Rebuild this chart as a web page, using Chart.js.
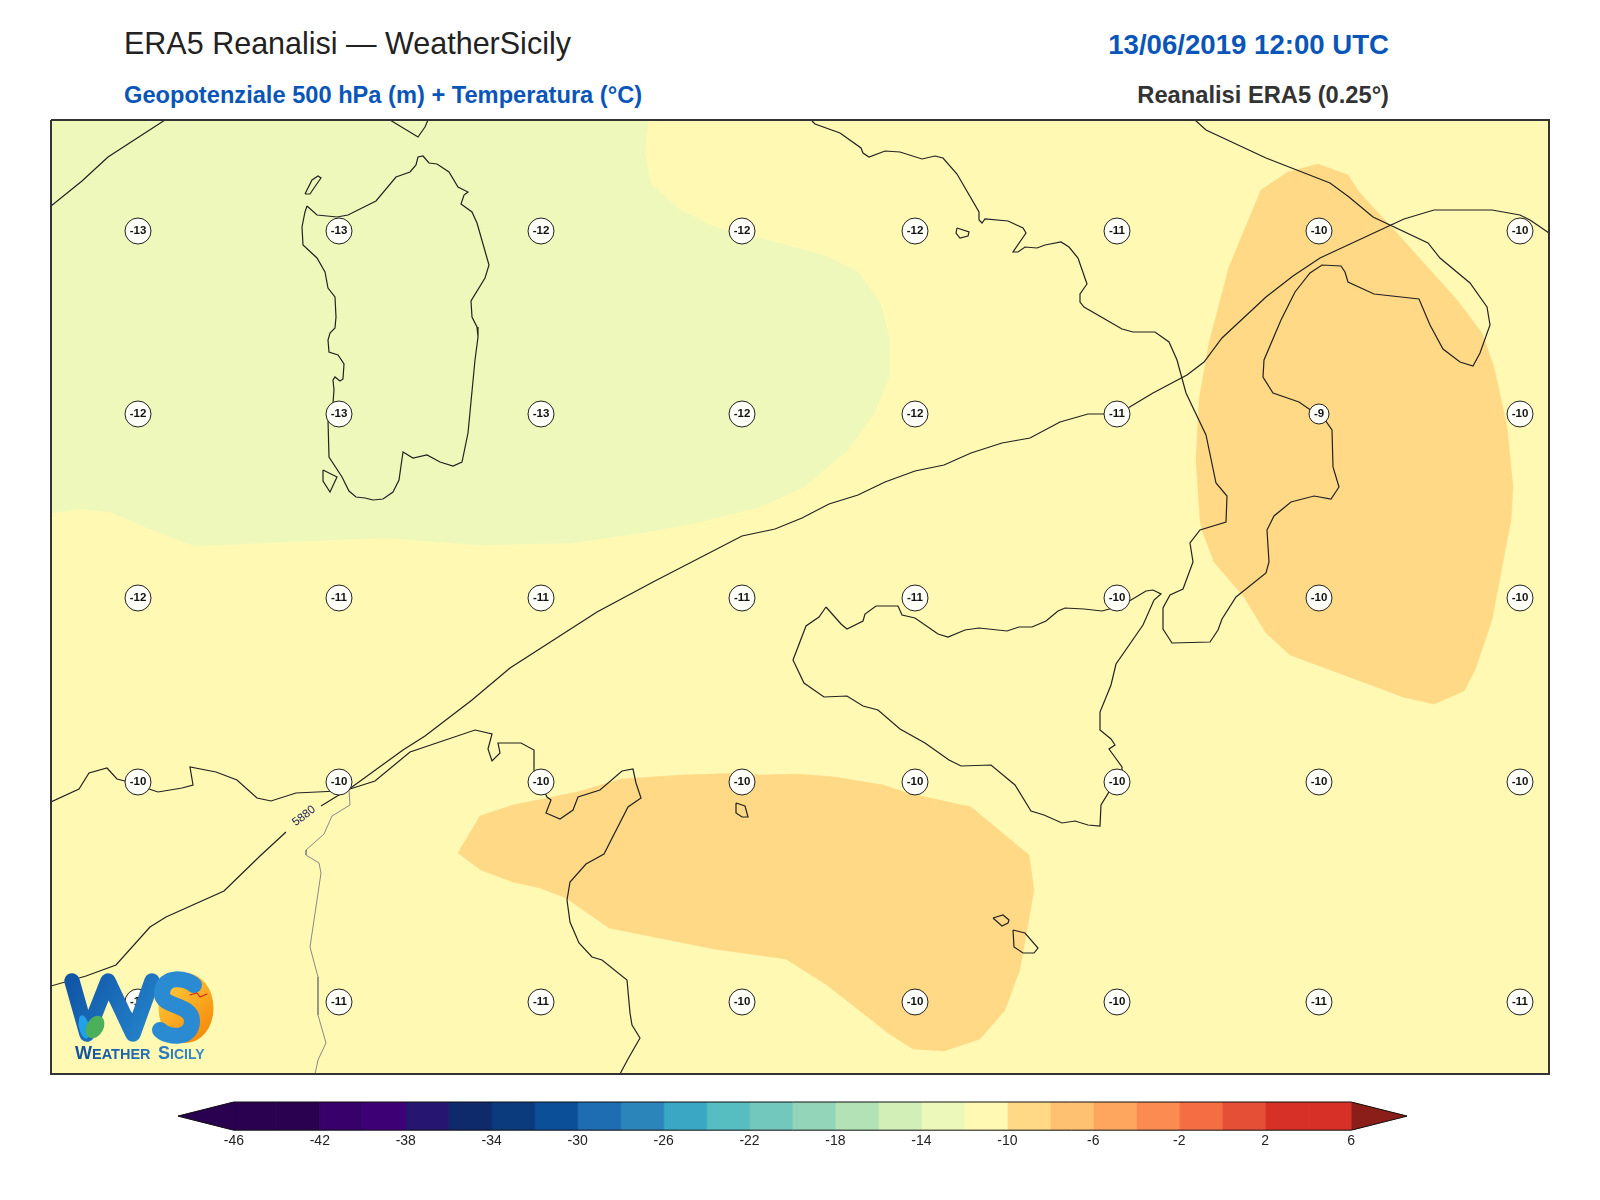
<!DOCTYPE html>
<html>
<head>
<meta charset="utf-8">
<title>ERA5 Reanalisi</title>
<script src="https://cdn.jsdelivr.net/npm/chart.js@4"></script>
<style>
  body { margin: 0; background: #fff; width: 1600px; height: 1200px; overflow: hidden; position: relative; font-family: "Liberation Sans", sans-serif; }
  canvas { position: absolute; left: 0; }
  .t { position: absolute; line-height: 1; white-space: nowrap; }
</style>
</head>
<body>
<div class="t" style="left:124px;top:28px;font-size:30.5px;color:#222">ERA5 Reanalisi — WeatherSicily</div>
<div class="t" style="left:124px;top:83.5px;font-size:23.65px;font-weight:bold;color:#0a55b8">Geopotenziale 500 hPa (m) + Temperatura (°C)</div>
<div class="t" style="right:211px;top:30.5px;font-size:27.6px;font-weight:bold;color:#0a55b8">13/06/2019 12:00 UTC</div>
<div class="t" style="right:211px;top:83.5px;font-size:23.7px;font-weight:bold;color:#333">Reanalisi ERA5 (0.25°)</div>
<canvas id="mappa" width="1600" height="1090" style="top:0"></canvas>
<canvas id="barra" width="1600" height="110" style="top:1090px"></canvas>
<script>
// griglia dei valori di temperatura
const gridX = [138, 339, 541, 742, 915, 1117, 1319, 1520];
const gridY = [231, 414, 598, 782, 1002];
const temp1 = [-13, -13, -12, -12, -12, -11, -10, -10];
const temp2 = [-12, -13, -13, -12, -12, -11, -9, -10];
const temp3 = [-12, -11, -11, -11, -11, -10, -10, -10];
const temp4 = [-10, -10, -10, -10, -10, -10, -10, -10];
const temp5 = [-11, -11, -11, -10, -10, -10, -11, -11];

// aree colorate
const dominio = [[51,120],[1549,120],[1549,1074],[51,1074]];
const areaVerde = [[648,120],[645,153],[651,184],[679,209],[714,227],[760,238],[829,257],[858,272],[880,302],[890,340],[889,377],[875,412],[848,450],[804,487],[760,507],[700,522],[653,531],[571,543],[480,545],[388,538],[306,541],[194,546],[153,530],[110,512],[80,509],[51,513],[51,120]];
const areaNordEst = [[1261,190],[1288,172],[1318,164],[1348,175],[1359,192],[1394,230],[1457,300],[1482,333],[1494,367],[1507,427],[1513,487],[1511,520],[1509,530],[1492,620],[1475,670],[1464,691],[1434,704],[1403,697],[1379,688],[1290,655],[1266,633],[1244,597],[1214,562],[1202,530],[1200,520],[1196,460],[1199,400],[1209,343],[1229,267]];
const areaSud = [[458,853],[480,816],[513,805],[577,792],[621,779],[683,775],[742,773],[760,775],[797,774],[834,777],[883,785],[907,793],[971,807],[1029,855],[1034,890],[1020,969],[1005,1010],[980,1039],[944,1051],[913,1049],[888,1033],[827,985],[786,959],[714,949],[609,928],[566,898],[540,888],[513,882],[481,870]];

// coste
const costaLigure = [[51,206],[82,181],[108,157],[165,120]];
const costaCorsica = [[390,120],[418,137],[425,127],[428,120]];
const sardegna = [[307,206],[317,215],[337,217],[348,215],[376,201],[396,177],[410,172],[416,165],[418,157],[423,156],[429,163],[437,164],[449,172],[458,187],[468,192],[464,195],[461,204],[472,212],[477,223],[489,265],[485,278],[471,301],[472,317],[477,327],[478,337],[475,360],[468,433],[462,462],[453,466],[440,462],[427,455],[413,458],[403,452],[399,480],[393,492],[383,499],[373,500],[365,498],[356,497],[349,491],[342,477],[329,457],[328,420],[333,403],[334,390],[333,380],[335,377],[340,381],[343,379],[344,364],[338,355],[329,352],[328,340],[330,333],[335,328],[336,317],[335,297],[328,288],[325,272],[317,258],[303,245],[302,227],[305,212],[307,206]];
const asinara = [[305,194],[312,180],[318,176],[321,178],[314,188],[310,194],[305,194]];
const sanPietro = [[323,470],[337,477],[330,492],[323,481],[323,470]];
const italia = [[812,121],[815,124],[840,133],[861,148],[863,153],[869,157],[885,151],[900,152],[922,159],[935,156],[943,158],[957,174],[979,212],[979,220],[982,223],[985,219],[1008,221],[1023,228],[1026,233],[1013,252],[1018,252],[1025,247],[1037,248],[1045,245],[1061,242],[1069,247],[1078,258],[1087,284],[1080,294],[1080,302],[1084,307],[1122,329],[1133,332],[1155,332],[1169,342],[1177,360],[1186,393],[1206,435],[1216,483],[1227,496],[1226,522],[1200,530],[1190,543],[1193,562],[1183,589],[1170,595],[1163,608],[1163,629],[1172,643],[1210,642],[1218,630],[1222,619],[1236,597],[1266,573],[1269,562],[1267,530],[1274,516],[1291,502],[1314,496],[1331,499],[1339,487],[1333,467],[1332,430],[1325,420],[1299,402],[1273,393],[1263,377],[1264,360],[1281,320],[1295,292],[1310,273],[1322,265],[1341,266],[1345,272],[1348,282],[1374,294],[1419,299],[1430,325],[1443,349],[1460,362],[1473,366],[1480,353],[1490,325],[1487,307],[1470,283],[1440,258],[1428,243],[1373,217],[1349,197],[1330,183],[1266,158],[1206,130],[1195,120]];
const sicilia = [[826,607],[841,624],[847,629],[863,621],[865,614],[876,606],[898,606],[902,615],[915,618],[938,634],[948,637],[965,630],[979,628],[1007,631],[1019,627],[1032,627],[1046,621],[1058,611],[1065,608],[1084,609],[1102,611],[1117,607],[1131,600],[1146,591],[1153,590],[1161,594],[1154,600],[1143,625],[1116,664],[1111,685],[1100,712],[1100,730],[1111,739],[1115,745],[1109,749],[1122,767],[1122,780],[1109,792],[1101,805],[1100,826],[1088,825],[1075,821],[1062,823],[1044,815],[1031,811],[1015,785],[991,765],[961,766],[949,760],[925,743],[900,729],[878,710],[863,706],[847,696],[824,697],[804,683],[793,660],[806,626],[819,617],[826,607]];
const africa = [[51,802],[79,789],[89,773],[107,768],[117,779],[125,781],[149,789],[158,792],[182,788],[193,785],[190,767],[216,772],[237,780],[257,798],[271,801],[296,793],[338,791],[350,789],[375,781],[410,752],[475,730],[492,734],[488,749],[492,761],[500,753],[498,743],[521,743],[534,750],[534,770],[547,797],[551,800],[546,813],[560,819],[573,810],[578,797],[600,790],[622,771],[633,769],[636,783],[641,798],[628,807],[604,854],[586,864],[570,882],[567,900],[570,922],[579,943],[592,957],[602,960],[627,980],[630,1013],[632,1025],[640,1038],[628,1059],[620,1074]];
const pantelleria = [[736,803],[745,806],[748,817],[742,817],[736,813],[736,803]];
const ustica = [[957,228],[969,232],[968,236],[960,238],[956,233],[957,228]];
const gozo = [[993,918],[1003,915],[1009,920],[1008,923],[1002,926],[993,918]];
const malta = [[1013,930],[1025,933],[1038,948],[1034,953],[1023,953],[1014,947],[1013,930]];
const confine = [[349,790],[350,805],[332,816],[324,834],[306,850],[306,855],[319,863],[321,873],[310,947],[318,977],[318,1015],[326,1043],[318,1060],[315,1074]];

// isoipsa 5880 m, interrotta in corrispondenza dell'etichetta
const isoOvest = [[51,986],[86,976],[116,965],[150,927],[166,917],[224,891],[260,856],[286,832]];
const isoEst = [[321,806],[352,787],[403,750],[425,736],[472,700],[510,668],[597,612],[653,582],[742,536],[775,529],[802,518],[829,504],[858,495],[885,482],[915,471],[944,465],[971,453],[1002,443],[1030,438],[1060,422],[1088,414],[1117,414],[1128,408],[1153,393],[1187,375],[1204,362],[1222,338],[1266,297],[1293,276],[1320,258],[1391,225],[1404,219],[1434,210],[1492,210],[1520,215],[1530,220],[1549,233]];
const isoEtichetta = [[304,816]];
const isoTesto = "5880";

// barra dei colori
const livelli = [-46,-44,-42,-40,-38,-36,-34,-32,-30,-28,-26,-24,-22,-20,-18,-16,-14,-12,-10,-8,-6,-4,-2,0,2,4,6];
const coloriLivelli = ["#2a0050","#2a0050","#37006a","#3d0075","#261671","#0f2a6b","#0b3b7d","#0b4f98","#1e6cb2","#2b85ba","#3aa8c4","#56bdc1","#72c8bd","#93d5b9","#b3e2b7","#d1efb7","#ecf8ba","#fff9b4","#ffd985","#fec171","#fea55e","#fb8b50","#f46d43","#e54f35","#d73027","#d73027"];
const tickBarra = [-46,-42,-38,-34,-30,-26,-22,-18,-14,-10,-6,-2,2,6];

const xy = arr => arr.map(p => ({ x: p[0], y: p[1] }));

function area(punti, colore, order) {
    const chiuso = punti.concat([punti[0]]);
    return { data: xy(chiuso), showLine: true, fill: "shape", backgroundColor: colore, borderColor: colore, borderWidth: 0.5, pointRadius: 0, tension: 0, order: order };
}
function linea(punti, colore, spessore) {
    return { data: xy(punti), showLine: true, fill: false, borderColor: colore, borderWidth: spessore, pointRadius: 0, tension: 0, order: 2 };
}

const puntiGriglia = [];
[temp1, temp2, temp3, temp4, temp5].forEach((riga, r) => {
    riga.forEach((v, c) => puntiGriglia.push({ x: gridX[c], y: gridY[r], v: v }));
});

// etichette dei cerchi, etichetta 5880 e logo
const testiPlugin = {
    id: "testi",
    afterDatasetsDraw(chart) {
        const ctx = chart.ctx, sx = chart.scales.x, sy = chart.scales.y;
        ctx.save();
        ctx.textAlign = "center";
        ctx.textBaseline = "middle";
        ctx.fillStyle = "#111";
        ctx.font = "bold 11.5px 'Liberation Sans'";
        puntiGriglia.forEach(p => ctx.fillText(String(p.v), sx.getPixelForValue(p.x), sy.getPixelForValue(p.y)));

        ctx.save();
        ctx.translate(sx.getPixelForValue(isoEtichetta[0][0]), sy.getPixelForValue(isoEtichetta[0][1]));
        ctx.rotate(-38 * Math.PI / 180);
        ctx.fillStyle = "#20205a";
        ctx.font = "11.5px 'Liberation Sans'";
        ctx.fillText(isoTesto, 0, 0);
        ctx.restore();

        disegnaLogo(ctx);
        ctx.restore();
    }
};

function disegnaLogo(ctx) {
    ctx.lineCap = "round";
    ctx.lineJoin = "round";

    // disco arancione dietro la S
    const g = ctx.createLinearGradient(170, 980, 214, 1030);
    g.addColorStop(0, "#ffc83a");
    g.addColorStop(1, "#f48a0a");
    ctx.fillStyle = g;
    ctx.beginPath();
    ctx.ellipse(186, 1008, 27.5, 35, 0, 0, Math.PI * 2);
    ctx.fill();

    // W
    const gw = ctx.createLinearGradient(65, 975, 155, 1035);
    gw.addColorStop(0, "#0f52a3");
    gw.addColorStop(1, "#2585cd");
    ctx.strokeStyle = gw;
    ctx.lineWidth = 15.5;
    ctx.beginPath();
    ctx.moveTo(72, 981);
    ctx.lineTo(87, 1034);
    ctx.lineTo(108, 981);
    ctx.lineTo(133, 1034);
    ctx.lineTo(152, 981);
    ctx.stroke();

    // goccia azzurra e foglia
    ctx.fillStyle = "#22a0e8";
    ctx.beginPath();
    ctx.ellipse(84, 1027, 5, 12, -0.2, 0, Math.PI * 2);
    ctx.fill();
    ctx.fillStyle = "#4caf5a";
    ctx.beginPath();
    ctx.ellipse(95, 1027, 8.5, 12, 0.5, 0, Math.PI * 2);
    ctx.fill();

    // S
    ctx.strokeStyle = "#2a8ad2";
    ctx.lineWidth = 16;
    ctx.beginPath();
    ctx.moveTo(194, 985);
    ctx.bezierCurveTo(187, 978, 162, 974, 162, 994);
    ctx.bezierCurveTo(162, 1007, 192, 1004, 192, 1021);
    ctx.bezierCurveTo(192, 1040, 168, 1038, 160, 1030);
    ctx.stroke();

    // gabbiano
    ctx.strokeStyle = "#c8281e";
    ctx.lineWidth = 1.2;
    ctx.beginPath();
    ctx.moveTo(190, 995);
    ctx.lineTo(197, 993);
    ctx.lineTo(200, 997);
    ctx.lineTo(207, 994);
    ctx.stroke();

    // scritta
    ctx.textAlign = "left";
    ctx.textBaseline = "alphabetic";
    const gt = ctx.createLinearGradient(75, 0, 206, 0);
    gt.addColorStop(0, "#0f4f9f");
    gt.addColorStop(1, "#3a8cc8");
    ctx.fillStyle = gt;
    ctx.font = "bold 18px 'Liberation Sans'";
    ctx.fillText("W", 75, 1059);
    ctx.font = "bold 14.5px 'Liberation Sans'";
    ctx.fillText("EATHER", 92, 1059);
    ctx.font = "bold 18px 'Liberation Sans'";
    ctx.fillText("S", 158, 1059);
    ctx.font = "bold 14px 'Liberation Sans'";
    ctx.fillText("ICILY", 170, 1059);
}

new Chart(document.getElementById("mappa").getContext("2d"), {
    type: "scatter",
    data: {
        datasets: [
            { data: puntiGriglia, pointRadius: c => (c.raw && c.raw.v === -9 ? 10 : 13), pointBackgroundColor: "#fffffa", pointBorderColor: "#222", pointBorderWidth: 1, order: 0 },
            Object.assign(linea(dominio.concat([dominio[0]]), "#333", 2), { order: -1, clip: false }),
            linea(costaLigure, "#222", 1.2),
            linea(costaCorsica, "#222", 1.2),
            linea(sardegna, "#222", 1.2),
            linea(asinara, "#222", 1.2),
            linea(sanPietro, "#222", 1.2),
            linea(italia, "#222", 1.2),
            linea(sicilia, "#222", 1.2),
            linea(africa, "#222", 1.2),
            linea(pantelleria, "#222", 1.2),
            linea(ustica, "#222", 1.2),
            linea(gozo, "#222", 1.2),
            linea(malta, "#222", 1.2),
            linea(confine, "#888", 1),
            linea(isoOvest, "#222", 1.2),
            linea(isoEst, "#222", 1.2),
            area(areaVerde, "#eef8ba", 5),
            area(areaNordEst, "#ffd985", 5),
            area(areaSud, "#ffd985", 5),
            area(dominio, "#fff9b4", 6)
        ]
    },
    options: {
        responsive: false,
        devicePixelRatio: 1,
        animation: false,
        events: [],
        layout: { padding: { left: 51, top: 120, right: 51, bottom: 16 } },
        plugins: { legend: { display: false }, tooltip: { enabled: false } },
        scales: {
            x: { type: "linear", min: 51, max: 1549, display: false },
            y: { type: "linear", min: 120, max: 1074, reverse: true, display: false }
        }
    },
    plugins: [testiPlugin]
});

// barra dei colori: celle e punte dalle liste dei livelli
const datiBarra = [];
const primo = livelli[0], ultimo = livelli[livelli.length - 1];
const punta = 2.6;
datiBarra.push({ data: xy([[primo, 0], [primo - punta, 0.5], [primo, 1], [ultimo, 1], [ultimo + punta, 0.5], [ultimo, 0], [primo, 0]]), showLine: true, fill: false, borderColor: "#111", borderWidth: 1, pointRadius: 0, tension: 0, order: 0, clip: false });
coloriLivelli.forEach((col, i) => {
    datiBarra.push(area([[livelli[i], 0], [livelli[i + 1], 0], [livelli[i + 1], 1], [livelli[i], 1]], col, 1));
});
datiBarra.push(area([[primo, 0], [primo - punta, 0.5], [primo, 1]], "#2a0050", 1));
datiBarra.push(area([[ultimo, 0], [ultimo + punta, 0.5], [ultimo, 1]], "#8b1e18", 1));

new Chart(document.getElementById("barra").getContext("2d"), {
    type: "scatter",
    data: { datasets: datiBarra },
    options: {
        responsive: false,
        devicePixelRatio: 1,
        animation: false,
        events: [],
        layout: { padding: { left: 178, top: 12, right: 193, bottom: 47 } },
        plugins: { legend: { display: false }, tooltip: { enabled: false } },
        scales: {
            x: {
                type: "linear", min: primo - punta, max: ultimo + punta,
                afterBuildTicks: ax => { ax.ticks = tickBarra.map(v => ({ value: v })); },
                grid: { display: false, drawTicks: false },
                border: { display: false },
                ticks: { autoSkip: false, maxRotation: 0, color: "#222", padding: 3, font: { family: "Liberation Sans", size: 14 } }
            },
            y: { type: "linear", min: 0, max: 1, display: false }
        }
    }
});
</script>
</body>
</html>
